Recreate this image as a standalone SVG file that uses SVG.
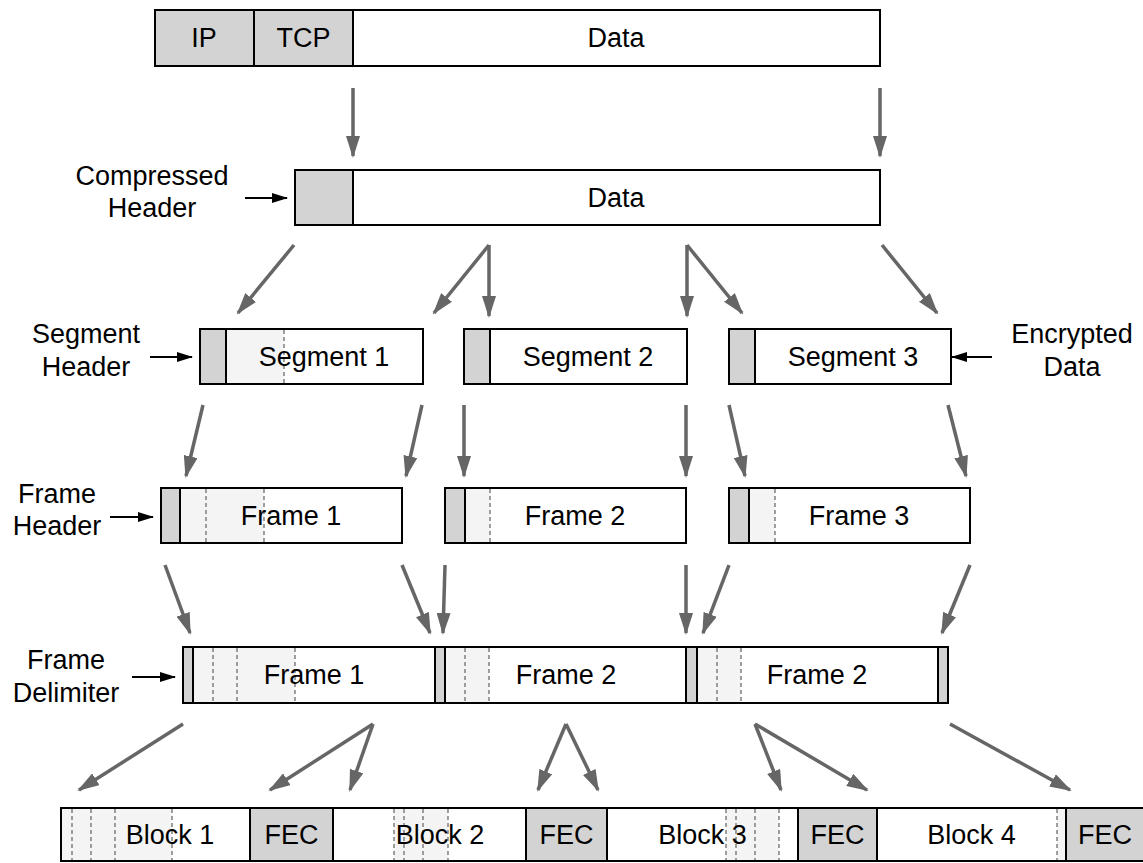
<svg xmlns="http://www.w3.org/2000/svg" width="1143" height="863" viewBox="0 0 1143 863">
<style>
text{font-family:"Liberation Sans",Arial,sans-serif;font-size:27px;fill:#000;text-anchor:middle}
.w{fill:#fff;stroke:#000;stroke-width:2}
.g{fill:#d3d3d3;stroke:#000;stroke-width:2}
.lc{fill:#f4f4f4;stroke:none}
.ld{fill:none;stroke:#777;stroke-width:1.4;stroke-dasharray:4 3}
.a{stroke:#666;stroke-width:3.5;fill:none;marker-end:url(#ah)}
.k{stroke:#000;stroke-width:2;fill:none;marker-end:url(#kh)}
</style>
<defs>
<marker id="ah" markerUnits="userSpaceOnUse" markerWidth="22" markerHeight="14" refX="20" refY="7" orient="auto"><path d="M0,0 L22,7 L0,14 z" fill="#666"/></marker>
<marker id="kh" markerUnits="userSpaceOnUse" markerWidth="16" markerHeight="10" refX="15" refY="5" orient="auto"><path d="M0,0 L16,5 L0,10 z" fill="#000"/></marker>
</defs>

<g id="packet">
<rect class="g" x="155" y="10" width="99" height="56"/>
<rect class="g" x="254" y="10" width="99" height="56"/>
<rect class="w" x="353" y="10" width="527" height="56"/>
<text x="204" y="47">IP</text>
<text x="303.5" y="47">TCP</text>
<text x="616" y="47">Data</text>
</g>

<g id="compressed">
<rect class="g" x="295" y="170" width="58" height="55"/>
<rect class="w" x="353" y="170" width="527" height="55"/>
<text x="616" y="207">Data</text>
</g>

<g id="label-compressed">
<text x="152" y="185">Compressed</text>
<text x="152" y="217">Header</text>
</g>

<g id="segment1">
<rect class="w" x="200" y="329" width="223" height="55"/>
<rect class="lc" x="226" y="330" width="58" height="53"/>
<line class="ld" x1="284" y1="330" x2="284" y2="383"/>
<rect class="g" x="200" y="329" width="26" height="55"/>
<text x="324" y="366">Segment 1</text>
</g>
<g id="segment2">
<rect class="w" x="464" y="329" width="223" height="55"/>
<rect class="g" x="464" y="329" width="26" height="55"/>
<text x="588" y="366">Segment 2</text>
</g>
<g id="segment3">
<rect class="w" x="729" y="329" width="222" height="55"/>
<rect class="g" x="729" y="329" width="26" height="55"/>
<text x="853" y="366">Segment 3</text>
</g>
<g id="label-segment">
<text x="86" y="343">Segment</text>
<text x="86" y="376">Header</text>
</g>
<g id="label-encrypted">
<text x="1072" y="343">Encrypted</text>
<text x="1072" y="376">Data</text>
</g>

<g id="frame1">
<rect class="w" x="161" y="488" width="241" height="55"/>
<rect class="lc" x="180" y="489" width="84" height="53"/>
<line class="ld" x1="206" y1="489" x2="206" y2="542"/>
<line class="ld" x1="264" y1="489" x2="264" y2="542"/>
<rect class="g" x="161" y="488" width="19" height="55"/>
<text x="291" y="525">Frame 1</text>
</g>
<g id="frame2">
<rect class="w" x="445" y="488" width="241" height="55"/>
<rect class="lc" x="465" y="489" width="25" height="53"/>
<line class="ld" x1="490" y1="489" x2="490" y2="542"/>
<rect class="g" x="445" y="488" width="20" height="55"/>
<text x="575" y="525">Frame 2</text>
</g>
<g id="frame3">
<rect class="w" x="729" y="488" width="241" height="55"/>
<rect class="lc" x="749" y="489" width="26" height="53"/>
<line class="ld" x1="775" y1="489" x2="775" y2="542"/>
<rect class="g" x="729" y="488" width="20" height="55"/>
<text x="859" y="525">Frame 3</text>
</g>
<g id="label-frame-header">
<text x="57" y="503">Frame</text>
<text x="57" y="535">Header</text>
</g>

<g id="delimited">
<rect class="w" x="183" y="647" width="765" height="56"/>
<rect class="lc" x="193" y="648" width="102" height="54"/>
<line class="ld" x1="213" y1="648" x2="213" y2="702"/>
<line class="ld" x1="237" y1="648" x2="237" y2="702"/>
<line class="ld" x1="295" y1="648" x2="295" y2="702"/>
<rect class="lc" x="445" y="648" width="44" height="54"/>
<line class="ld" x1="465" y1="648" x2="465" y2="702"/>
<line class="ld" x1="489" y1="648" x2="489" y2="702"/>
<rect class="lc" x="697" y="648" width="44" height="54"/>
<line class="ld" x1="717" y1="648" x2="717" y2="702"/>
<line class="ld" x1="741" y1="648" x2="741" y2="702"/>
<rect class="g" x="183" y="647" width="10" height="56"/>
<rect class="g" x="435" y="647" width="10" height="56"/>
<rect class="g" x="686" y="647" width="11" height="56"/>
<rect class="g" x="938" y="647" width="10" height="56"/>
<text x="314" y="684">Frame 1</text>
<text x="566" y="684">Frame 2</text>
<text x="817" y="684">Frame 2</text>
</g>
<g id="label-delimiter">
<text x="66" y="669">Frame</text>
<text x="66" y="702">Delimiter</text>
</g>

<g id="blocks">
<rect class="w" x="61" y="808" width="189" height="53"/>
<rect class="g" x="250" y="808" width="83" height="53"/>
<rect class="w" x="333" y="808" width="193" height="53"/>
<rect class="g" x="526" y="808" width="81" height="53"/>
<rect class="w" x="607" y="808" width="191" height="53"/>
<rect class="g" x="798" y="808" width="79" height="53"/>
<rect class="w" x="877" y="808" width="189" height="53"/>
<rect class="g" x="1066" y="808" width="90" height="53"/>
<rect class="lc" x="62" y="809" width="110" height="51"/>
<line class="ld" x1="72" y1="809" x2="72" y2="860"/>
<line class="ld" x1="91" y1="809" x2="91" y2="860"/>
<line class="ld" x1="115" y1="809" x2="115" y2="860"/>
<line class="ld" x1="172" y1="809" x2="172" y2="860"/>
<rect class="lc" x="394" y="809" width="54" height="51"/>
<line class="ld" x1="394" y1="809" x2="394" y2="860"/>
<line class="ld" x1="404" y1="809" x2="404" y2="860"/>
<line class="ld" x1="423" y1="809" x2="423" y2="860"/>
<line class="ld" x1="448" y1="809" x2="448" y2="860"/>
<rect class="lc" x="726" y="809" width="53" height="51"/>
<line class="ld" x1="726" y1="809" x2="726" y2="860"/>
<line class="ld" x1="736" y1="809" x2="736" y2="860"/>
<line class="ld" x1="755" y1="809" x2="755" y2="860"/>
<line class="ld" x1="779" y1="809" x2="779" y2="860"/>
<rect class="lc" x="1057" y="809" width="8" height="51"/>
<line class="ld" x1="1057" y1="809" x2="1057" y2="860"/>
<text x="170" y="844">Block 1</text>
<text x="291.5" y="844">FEC</text>
<text x="440" y="844">Block 2</text>
<text x="566.5" y="844">FEC</text>
<text x="702.5" y="844">Block 3</text>
<text x="837.5" y="844">FEC</text>
<text x="971.5" y="844">Block 4</text>
<text x="1105" y="844">FEC</text>
</g>

<g id="connectors">
<line class="k" x1="245" y1="198" x2="287" y2="198"/>
<line class="k" x1="150" y1="357" x2="192" y2="357"/>
<line class="k" x1="992" y1="357" x2="952" y2="357"/>
<line class="k" x1="110" y1="517" x2="153" y2="517"/>
<line class="k" x1="132" y1="677" x2="175" y2="677"/>

<line class="a" x1="353" y1="88" x2="353" y2="156"/>
<line class="a" x1="880" y1="88" x2="880" y2="156"/>

<line class="a" x1="294" y1="245" x2="238" y2="313"/>
<line class="a" x1="489" y1="245" x2="434" y2="313"/>
<line class="a" x1="489" y1="245" x2="489" y2="316"/>
<line class="a" x1="687" y1="245" x2="687" y2="316"/>
<line class="a" x1="687" y1="245" x2="742" y2="313"/>
<line class="a" x1="882" y1="245" x2="937" y2="313"/>

<line class="a" x1="203" y1="405" x2="186" y2="476"/>
<line class="a" x1="422" y1="405" x2="406" y2="476"/>
<line class="a" x1="464" y1="405" x2="464" y2="476"/>
<line class="a" x1="686" y1="405" x2="686" y2="476"/>
<line class="a" x1="729" y1="405" x2="745" y2="476"/>
<line class="a" x1="948" y1="405" x2="966" y2="476"/>

<line class="a" x1="165" y1="565" x2="190" y2="633"/>
<line class="a" x1="402" y1="565" x2="430" y2="633"/>
<line class="a" x1="445" y1="565" x2="443" y2="633"/>
<line class="a" x1="686" y1="565" x2="686" y2="633"/>
<line class="a" x1="729" y1="565" x2="703" y2="633"/>
<line class="a" x1="970" y1="565" x2="942" y2="633"/>

<line class="a" x1="183" y1="724" x2="79" y2="790"/>
<line class="a" x1="373" y1="724" x2="270" y2="790"/>
<line class="a" x1="373" y1="724" x2="350" y2="790"/>
<line class="a" x1="566" y1="724" x2="538" y2="790"/>
<line class="a" x1="566" y1="724" x2="598" y2="790"/>
<line class="a" x1="755" y1="724" x2="781" y2="790"/>
<line class="a" x1="755" y1="724" x2="867" y2="790"/>
<line class="a" x1="950" y1="724" x2="1070" y2="790"/>
</g>
</svg>
